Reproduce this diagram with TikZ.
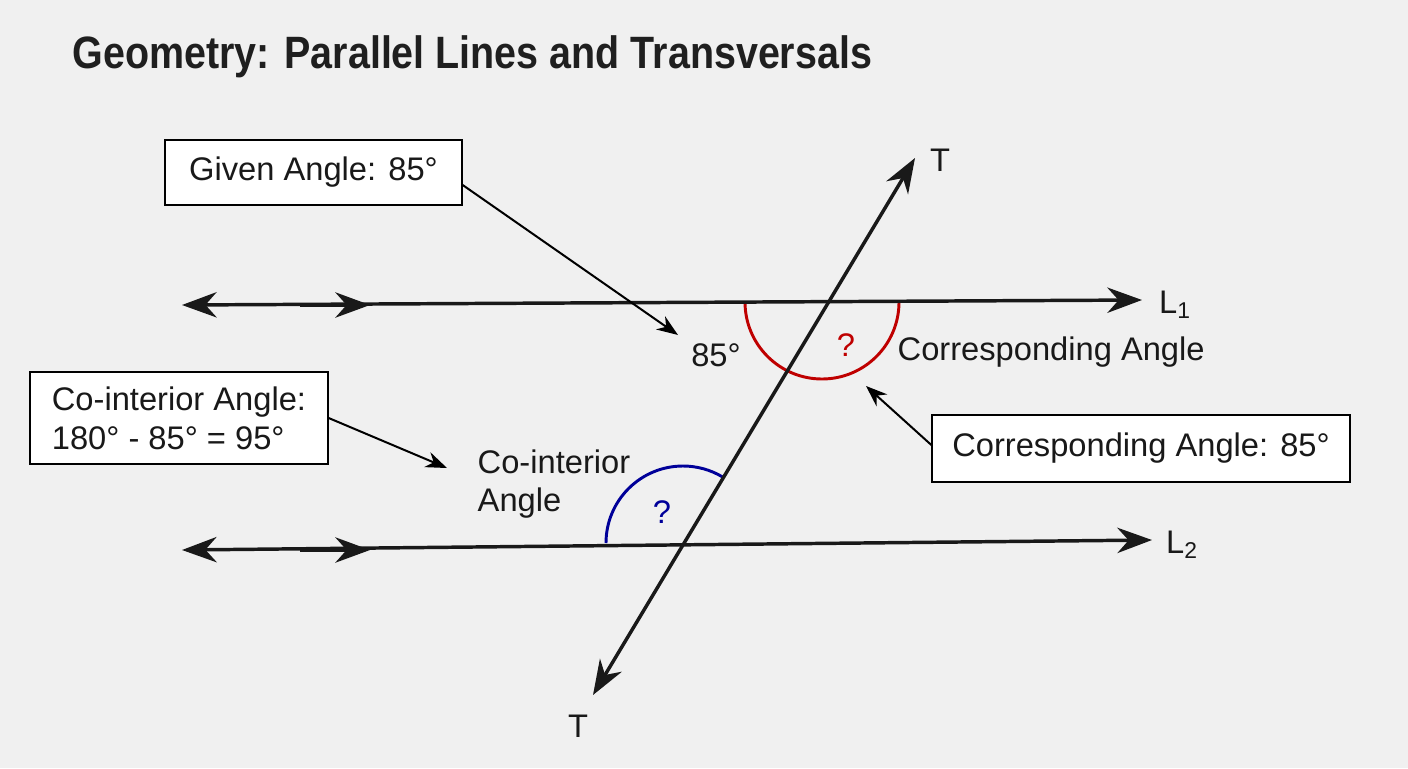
\documentclass[tikz,border=0pt]{standalone}
\usepackage{fontspec}
\setmainfont{Liberation Sans}
\usetikzlibrary{arrows.meta}
\begin{document}
\begin{tikzpicture}[x=0.75pt,y=-0.75pt,
  ln/.style={line width=2.6pt,black!90},
  hd/.style={-{Stealth[length=26pt,width=19pt]}},
  bhd/.style={{Stealth[length=26pt,width=19pt]}-{Stealth[length=26pt,width=19pt]}},
  cal/.style={line width=1.5pt,-{Stealth[length=16pt,width=12pt]}},
  box/.style={draw,line width=1pt,fill=white,inner sep=0pt},
  lab/.style={font=\fontsize{24.5pt}{29pt}\selectfont,text=black!90}]
\fill[black!6] (0,0) rectangle (1408,768);
\useasboundingbox (0,0) rectangle (1408,768);
\node[anchor=west,font=\fontsize{34pt}{40pt}\selectfont\bfseries,text=black!88] (title) at (68,57) {\scalebox{0.87}[1]{Geometry: Parallel Lines and Transversals}};
% lines
\coordinate (l1a) at (182,305); \coordinate (l1b) at (1142,300); \coordinate (l1m) at (370,305); \coordinate (l1m0) at (300,305);
\coordinate (l2a) at (182,550); \coordinate (l2b) at (1152,540); \coordinate (l2m) at (370,550); \coordinate (l2m0) at (300,550);
\coordinate (ta) at (593,695); \coordinate (tb) at (915,158);
\draw[red!75!black,line width=2.2pt] (745,302) arc[start angle=180,end angle=0,radius=77];
\draw[blue!60!black,line width=2.2pt] (606,543) arc[start angle=180,end angle=301,radius=77];
\draw[ln,bhd] (l1a) -- (l1b);
\draw[ln,hd] (l1m0) -- (l1m);
\draw[ln,bhd] (l2a) -- (l2b);
\draw[ln,hd] (l2m0) -- (l2m);
\draw[ln,bhd] (ta) -- (tb);
% labels
\node[lab] (tt) at (940,160) {T};
\node[lab] (tbot) at (578,726) {T};
\node[lab] (L1) at (1175,305) {L\textsubscript{1}};
\node[lab] (L2) at (1182,545) {L\textsubscript{2}};
\node[lab,text=red!75!black] (q1) at (846,345) {?};
\node[lab,text=blue!60!black] (q2) at (662,512) {?};
\node[lab] (a85) at (716,355) {85°};
\node[lab,anchor=west] (corr) at (893,352) {Corresponding Angle};
\node[lab,anchor=west,align=left] (coi) at (473,484) {Co-interior\\Angle};
% boxes
\node[box,lab,minimum width=297pt*0.75,minimum height=65pt*0.75] (given) at (313.5,172.5) {Given Angle: 85°};
\node[box,lab,align=left,minimum width=298pt*0.75,minimum height=92pt*0.75] (cibox) at (179,418) {Co-interior Angle:\\180° - 85° = 95°};
\node[box,lab,minimum width=418pt*0.75,minimum height=67pt*0.75] (cbox) at (1141,448.5) {Corresponding Angle: 85°};
\coordinate (g1) at (678,335); \coordinate (c1) at (447,468); \coordinate (k1) at (866,386);
\draw[cal] (given.east |- 0,185) -- (g1);
\draw[cal] (cibox.east |- 0,418) -- (c1);
\draw[cal] (cbox.west |- 0,445) -- (k1);
\end{tikzpicture}
\end{document}
